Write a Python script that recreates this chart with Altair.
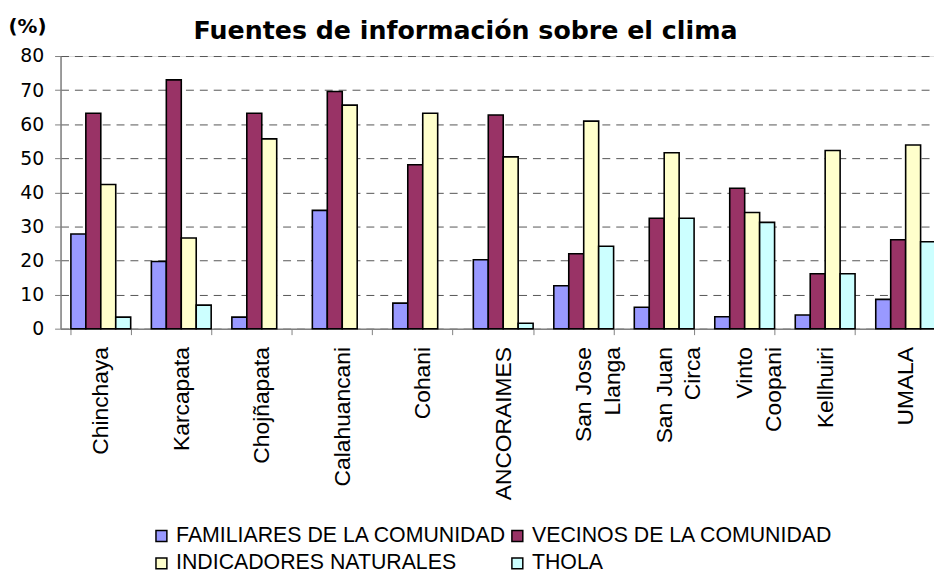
import altair as alt
import pandas as pd

categories = ["Chinchaya", "Karcapata", "Chojñapata", "Calahuancani", "Cohani",
              "ANCORAIMES", "San Jose\nLlanga", "San Juan\nCirca", "Vinto\nCoopani",
              "Kellhuiri", "UMALA"]
series = ["FAMILIARES DE LA COMUNIDAD", "VECINOS DE LA COMUNIDAD",
          "INDICADORES NATURALES", "THOLA"]
familiares = [27.8, 19.7, 3.4, 34.7, 7.5, 20.2, 12.6, 6.3, 3.5, 4.0, 8.6]
vecinos = [63.2, 73.0, 63.2, 69.6, 48.1, 62.7, 22.0, 32.4, 41.2, 16.1, 26.1]
indicadores = [42.3, 26.6, 55.7, 65.6, 63.2, 50.4, 60.9, 51.6, 34.1, 52.3, 53.9]
thola = [3.4, 6.9, 0, 0, 0, 1.6, 24.2, 32.4, 31.2, 16.1, 25.5]
colors = ["#9999FF", "#993366", "#FFFFCC", "#CCFFFF"]
y_ticks = [0, 10, 20, 30, 40, 50, 60, 70, 80]

rows = []
for s, vals in zip(series, [familiares, vecinos, indicadores, thola]):
    for c, v in zip(categories, vals):
        if v > 0:
            rows.append({"lugar": c, "fuente": s, "pct": v})
df = pd.DataFrame(rows)

# multi-line labels: shorter line visually centred on the longer one (trailing no-break spaces)
L0 = "split(datum.label, '\\n')[0]"
L1 = "split(datum.label, '\\n')[1]"
MX = f"max(length({L0}), length({L1}))"
NB = "'\u00a0'"
label_expr = (f"indexof(datum.label, '\\n') < 0 ? datum.label : "
              f"[pad({L0}, {MX}, {NB}, 'right'), pad({L1}, {MX}, {NB}, 'right')]")

chart = alt.Chart(df).mark_bar(stroke="black", strokeWidth=1.6).encode(
    x=alt.X("lugar:N", sort=categories,
            scale=alt.Scale(paddingInner=0.257, paddingOuter=0.1285),
            axis=alt.Axis(title=None, labelAngle=-90, labelAlign="right",
                          labelBaseline="middle",
                          labelExpr=label_expr,
                          labelFont="Liberation Sans", labelFontSize=23,
                          labelColor="black", labelLineHeight=29,
                          labelPadding=12, labelLimit=400,
                          tickBand="extent", tickSize=6, tickColor="#808080",
                          domainColor="#808080", domainWidth=1.5, grid=False)),
    xOffset=alt.XOffset("fuente:N", sort=series),
    y=alt.Y("pct:Q", scale=alt.Scale(domain=[0, 80], nice=False),
            axis=alt.Axis(values=y_ticks, title="(%)", titleAngle=0,
                          titleX=-53, titleY=-24, titleAlign="left",
                          titleBaseline="alphabetic",
                          titleFont="DejaVu Sans", titleFontSize=20, titleFontWeight="bold",
                          titleColor="black",
                          labelFont="DejaVu Sans", labelFontSize=19, labelColor="black",
                          labelPadding=11, tickSize=6, tickColor="#808080",
                          domainColor="#808080", domainWidth=1.5,
                          grid=True, gridColor="#555555", gridDash=[8, 6], gridWidth=1)),
    color=alt.Color("fuente:N", sort=series,
                    scale=alt.Scale(domain=series, range=colors),
                    legend=alt.Legend(title=None, orient="none", legendX=91, legendY=473,
                                      columns=2, direction="horizontal",
                                      symbolType="square", symbolSize=121,
                                      symbolStrokeColor="black", symbolStrokeWidth=1.5,
                                      labelFont="Liberation Sans", labelFontSize=21.5,
                                      labelColor="black", labelOffset=4,
                                      columnPadding=0, rowPadding=5, labelLimit=500)),
).properties(
    width=893, height=275,
    title=alt.Title("Fuentes de información sobre el clima", font="DejaVu Sans",
                    fontSize=25.5, fontWeight="bold", color="black",
                    anchor="middle", dx=-38, dy=36, offset=8),
    autosize=alt.AutoSizeParams(type="none"),
    padding={"left": 53, "top": 46, "right": -12, "bottom": 244},
).configure_view(stroke=None).configure(background="white")

chart.save("out.html", embed_options={"renderer": "svg", "actions": False})
